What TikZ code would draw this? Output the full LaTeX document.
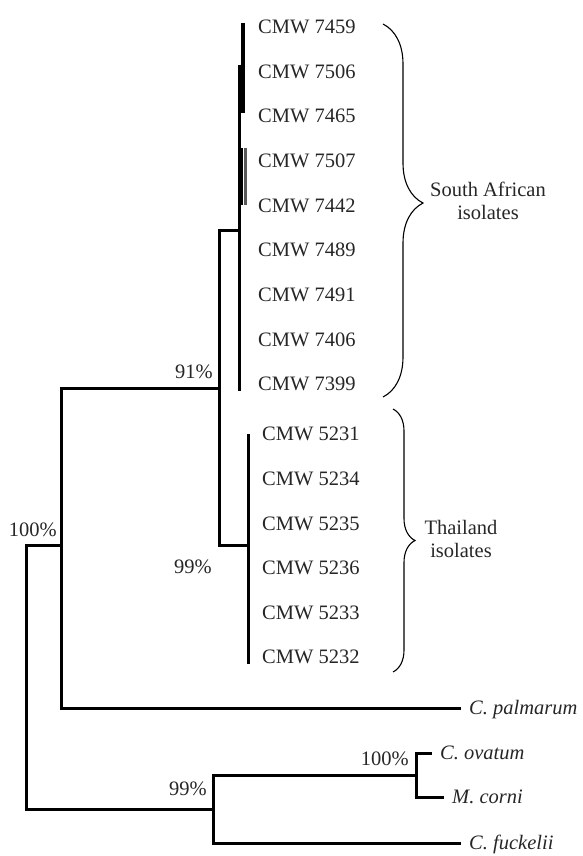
\documentclass[tikz,border=0pt]{standalone}
\usepackage{fontspec}
\setmainfont{Liberation Serif}
\usetikzlibrary{decorations.pathreplacing}
\newcommand\treefont{\fontsize{20.5}{23}\selectfont}
\tikzset{
    branch/.style = {
        line width=3pt, line join=miter
    },
    isolate/.style = {
        anchor=west, inner sep=0pt,
        text height=13.6pt, text depth=0pt,
        font=\treefont, text=black!85
    },
    taxon/.style = {
        anchor=west, inner ysep=0pt, inner xsep=8pt,
        text height=13.6pt, text depth=0pt,
        font=\treefont\itshape, text=black!85
    },
    support/.style = {
        anchor=east, inner sep=0pt,
        text height=13.6pt, text depth=0pt,
        font=\treefont, text=black!85
    },
    group/.style = {
        align=center, inner sep=0pt,
        font=\treefont, text=black!85
    },
    bracket/.style = {
        decorate, line width=1.1pt
    }
}

\begin{document}
\begin{tikzpicture}[x=1pt, y=-1pt]
\useasboundingbox (0,0) rectangle (583,856);

% isolates
\foreach \lab [count=\i] in {7459,7506,7465,7507,7442,7489,7491,7406,7399}
    \node[isolate] (sa\i) at (258,{27+44.6*(\i-1)}) {CMW \lab};
\foreach \lab [count=\i] in {5231,5234,5235,5236,5233,5232}
    \node[isolate] (th\i) at (262,{434+44.6*(\i-1)}) {CMW \lab};

% outgroup taxa
\node[taxon] (palm) at (461,708) {C. palmarum};
\node[taxon] (ovat) at (432,753) {C. ovatum};
\node[taxon] (corni) at (444,797) {M. corni};
\node[taxon] (fuck) at (461,843) {C. fuckelii};

% internal nodes
\coordinate (root) at (26,680);
\coordinate (ingroup) at (61,545);
\coordinate (n91) at (219,388);
\coordinate (safr) at (239,230);
\coordinate (thai) at (248,545);
\coordinate (outgroup) at (213,809);
\coordinate (n100) at (416,775);

\draw[branch] (root) |- (ingroup);
\draw[branch] (root) |- (outgroup);
\draw[branch] (ingroup) |- (n91);
\draw[branch] (ingroup) |- (palm.west);
\draw[branch] (n91) |- (safr);
\draw[branch] (n91) |- (thai);
\draw[branch] (outgroup) |- (n100);
\draw[branch] (outgroup) |- (fuck.west);
\draw[branch] (n100) |- (ovat.west);
\draw[branch] (n100) |- (corni.west);

\draw[branch] (safr |- sa2.north) -- (safr |- sa9.south);
\draw[branch] (thai |- th1.west) -- (thai |- th6.south);
\draw[line width=4.5pt] (242.8,23) -- (242.8,113);
\draw[line width=2.5pt] (242,148) -- (242,205);
\draw[line width=3pt, gray!70!black] (245,148) -- (245,205);

% bootstrap values
\node[support] (s91) at (213,372) {91\%};
\node[support] (s99a) at (212,567) {99\%};
\node[support] (s100a) at (57,530) {100\%};
\node[support] (s99b) at (207,789) {99\%};
\node[support] (s100b) at (409,759) {100\%};

% groups
\draw[bracket, decoration={brace, amplitude=40pt, aspect=0.48}] (383,24) -- (383,397);
\draw[bracket, decoration={brace, amplitude=22pt, aspect=0.5}] (393,409) -- (393,672);
\node[group] (saLabel) at (488,201) {South African\\isolates};
\node[group] (thLabel) at (461,539) {Thailand\\isolates};

\end{tikzpicture}
\end{document}
